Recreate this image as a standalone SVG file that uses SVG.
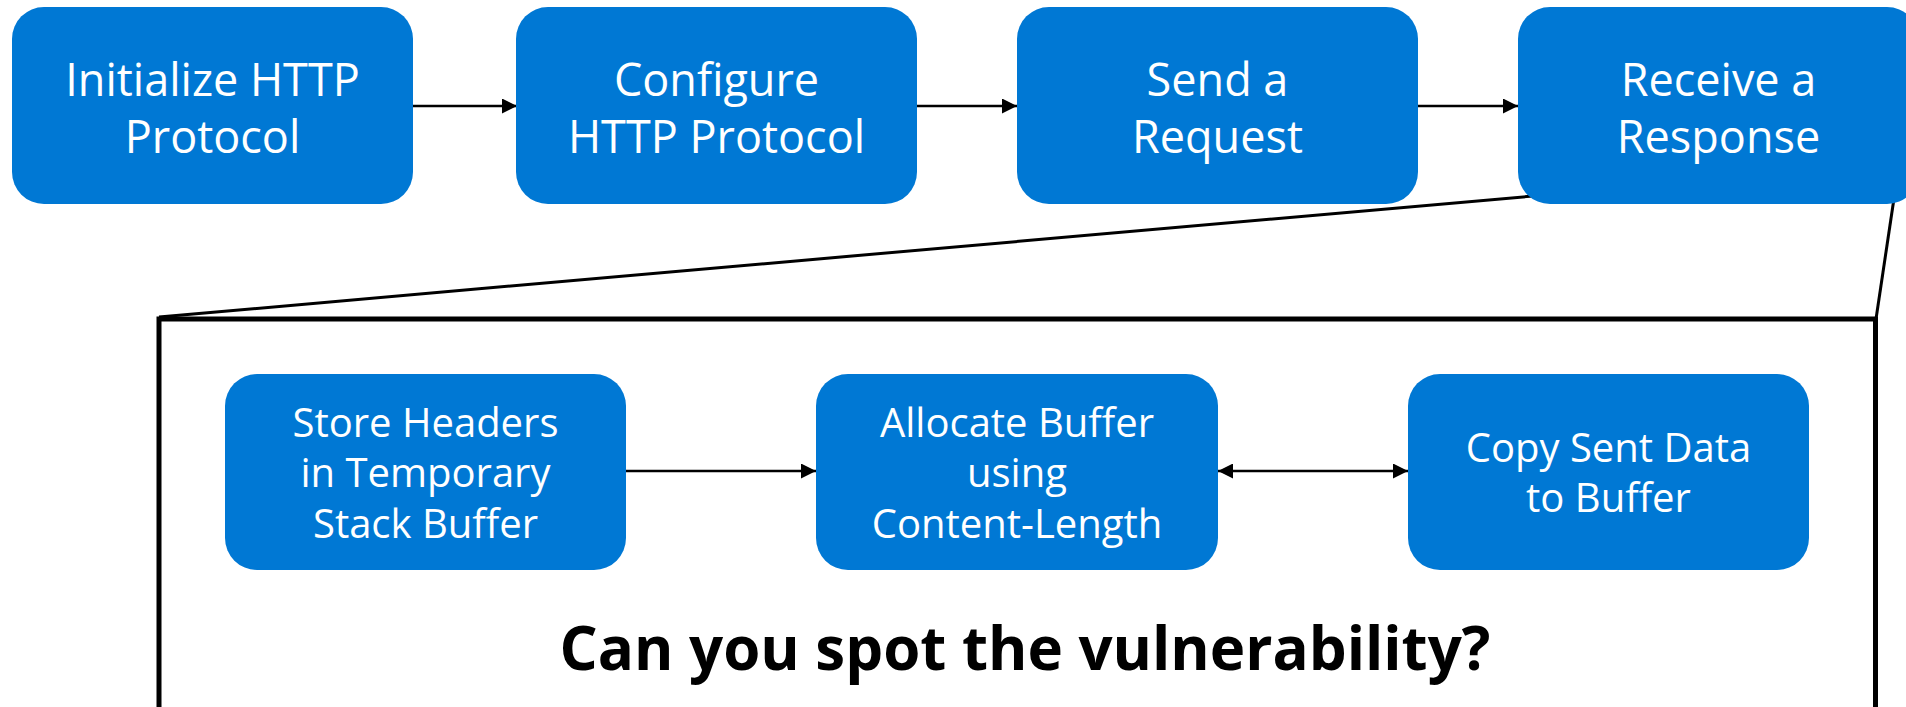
<svg xmlns="http://www.w3.org/2000/svg" width="1906" height="707" viewBox="0 0 1906 707">
  <style>
    .box { fill: #0078D4; }
    .lbl { fill: #ffffff; font-family: "Open Sans", "Noto Sans", "Liberation Sans", sans-serif; text-anchor: middle; }
    .top { font-size: 45px; }
    .inner { font-size: 40px; }
    .edge { stroke: #000000; stroke-width: 2.5; fill: none; }
    .zoom { stroke: #000000; stroke-width: 3; fill: none; }
    .frame { stroke: #000000; stroke-width: 5; fill: none; }
    .question { fill: #000000; font-family: "Open Sans", "Noto Sans", "Liberation Sans", sans-serif; font-weight: bold; font-size: 60px; text-anchor: middle; }
  </style>
  <defs>
    <marker id="head" markerUnits="userSpaceOnUse" markerWidth="15" markerHeight="15" refX="15" refY="7.5" orient="auto">
      <path d="M0,0 L15,7.5 L0,15 Z" fill="#000000"/>
    </marker>
    <marker id="tail" markerUnits="userSpaceOnUse" markerWidth="15" markerHeight="15" refX="0" refY="7.5" orient="auto">
      <path d="M15,0 L0,7.5 L15,15 Z" fill="#000000"/>
    </marker>
  </defs>

  <rect width="1906" height="707" fill="#ffffff"/>

  <!-- detail frame and the lines fanning out from "Receive a Response" -->
  <g id="detail-frame">
    <rect class="frame" x="159" y="319" width="1716.5" height="420"/>
    <line class="zoom" x1="159" y1="317" x2="1545" y2="195"/>
    <line class="zoom" x1="1896" y1="185" x2="1876" y2="319"/>
  </g>

  <!-- connectors -->
  <g id="connectors">
    <line class="edge" x1="413" y1="106" x2="517" y2="106" marker-end="url(#head)"/>
    <line class="edge" x1="917" y1="106" x2="1017" y2="106" marker-end="url(#head)"/>
    <line class="edge" x1="1418" y1="106" x2="1518" y2="106" marker-end="url(#head)"/>
    <line class="edge" x1="626" y1="471" x2="816" y2="471" marker-end="url(#head)"/>
    <line class="edge" x1="1218" y1="471" x2="1408" y2="471" marker-start="url(#tail)" marker-end="url(#head)"/>
  </g>

  <!-- top row -->
  <g id="init-http">
    <rect class="box" x="12" y="7" width="401" height="197" rx="32"/>
    <text class="lbl top" x="212.5" y="96">Initialize HTTP</text>
    <text class="lbl top" x="212.5" y="153">Protocol</text>
  </g>
  <g id="configure-http">
    <rect class="box" x="516" y="7" width="401" height="197" rx="32"/>
    <text class="lbl top" x="716.5" y="96">Configure</text>
    <text class="lbl top" x="716.5" y="153">HTTP Protocol</text>
  </g>
  <g id="send-request">
    <rect class="box" x="1017" y="7" width="401" height="197" rx="32"/>
    <text class="lbl top" x="1217.5" y="96">Send a</text>
    <text class="lbl top" x="1217.5" y="153">Request</text>
  </g>
  <g id="receive-response">
    <rect class="box" x="1518" y="7" width="401" height="197" rx="32"/>
    <text class="lbl top" x="1718.5" y="96">Receive a</text>
    <text class="lbl top" x="1718.5" y="153">Response</text>
  </g>

  <!-- inner row -->
  <g id="store-headers">
    <rect class="box" x="225" y="374" width="401" height="196" rx="32"/>
    <text class="lbl inner" x="425.5" y="437">Store Headers</text>
    <text class="lbl inner" x="425.5" y="487">in Temporary</text>
    <text class="lbl inner" x="425.5" y="538">Stack Buffer</text>
  </g>
  <g id="allocate-buffer">
    <rect class="box" x="816" y="374" width="402" height="196" rx="32"/>
    <text class="lbl inner" x="1017" y="437">Allocate Buffer</text>
    <text class="lbl inner" x="1017" y="487">using</text>
    <text class="lbl inner" x="1017" y="538">Content-Length</text>
  </g>
  <g id="copy-data">
    <rect class="box" x="1408" y="374" width="401" height="196" rx="32"/>
    <text class="lbl inner" x="1608.5" y="462">Copy Sent Data</text>
    <text class="lbl inner" x="1608.5" y="512">to Buffer</text>
  </g>

  <text class="question" x="1025" y="670">Can you spot the vulnerability?</text>
</svg>
